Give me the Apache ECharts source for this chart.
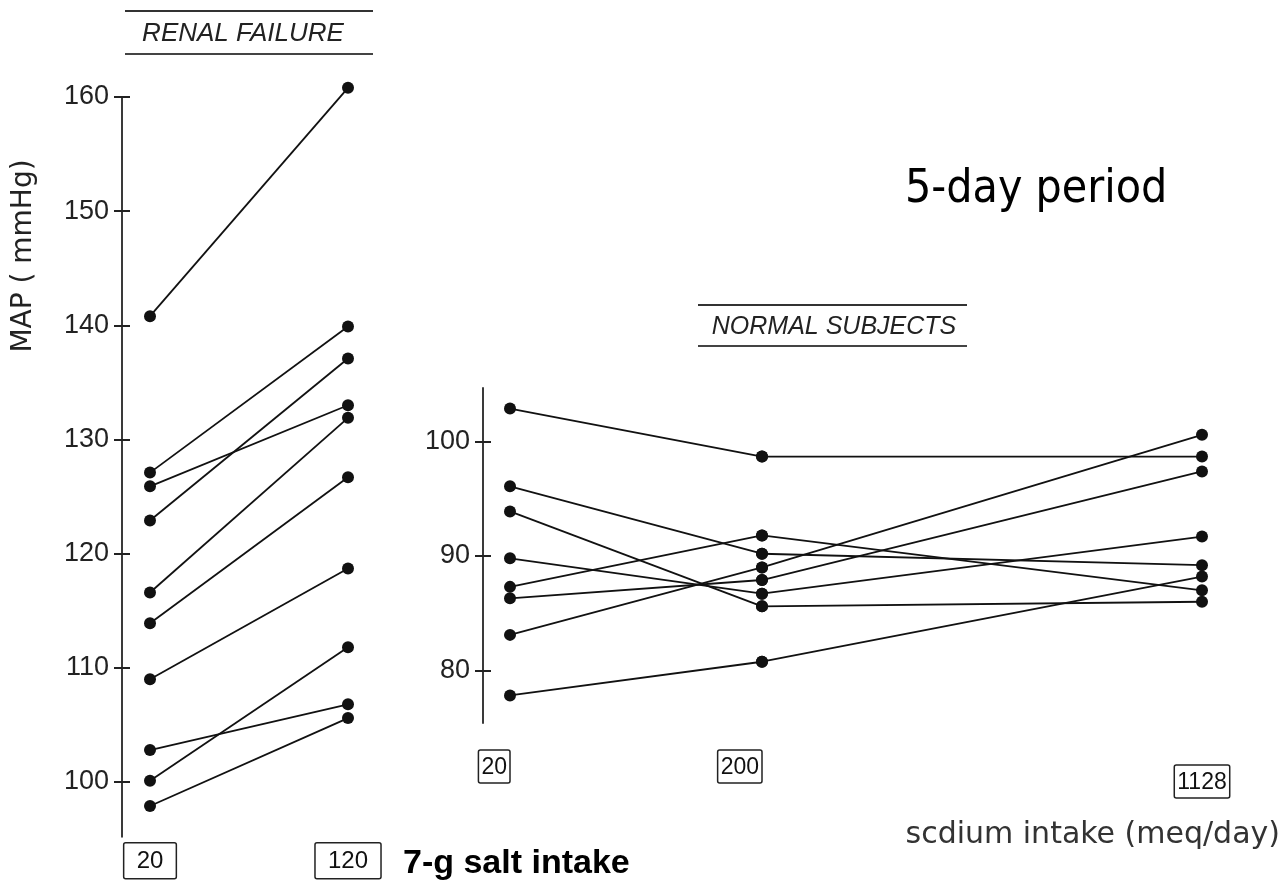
<!DOCTYPE html>
<html>
<head>
<meta charset="utf-8">
<script src="https://cdn.jsdelivr.net/npm/echarts@6/dist/echarts.min.js"></script>
<style>
html,body{margin:0;padding:0;background:#fff;}
#chart{width:1284px;height:887px;}
</style>
</head>
<body>
<div id="chart"></div>
<script>
// ---- data ----
const renalCats = ['20', '120'];
const renalLow  = [140.8, 127.1, 125.9, 122.9, 116.6, 113.9, 109.0, 102.8, 100.1, 97.9];
const renalHigh = [160.8, 139.9, 133.0, 137.1, 131.9, 126.7, 118.7, 106.8, 111.8, 105.6];
const renalTicks = [100, 110, 120, 130, 140, 150, 160];

const normalCats = ['20', '200', '1128'];
const normal20   = [102.9, 96.1, 93.9, 89.8, 87.3, 86.3, 83.1, 77.8];
const normal200  = [98.7, 90.2, 85.6, 86.7, 91.8, 87.9, 89.0, 80.75];
const normal1128 = [98.7, 89.2, 86.0, 91.7, 87.0, 97.4, 100.6, 88.2];
const normalTicks = [80, 90, 100];

const titleRenal = 'RENAL FAILURE';
const titleNormal = 'NORMAL SUBJECTS';
const yName = 'MAP ( mmHg)';
const xName = 'scdium intake (meq/day)';
const noteTop = '5-day period';
const noteBottom = '7-g salt intake';

// ---- chart ----
const chart = echarts.init(document.getElementById('chart'), null, {renderer: 'canvas'});
const INK = '#111';
const AXIS = '#3a3a3a';
const labelFont = 'Liberation Sans';

function mainY(gridIndex, min, max, ticks, offset) {
  return {
    type: 'value', gridIndex, min, max, offset, position: 'left',
    splitLine: {show: false},
    axisLine: {show: true, lineStyle: {color: AXIS, width: 2}},
    axisTick: {show: true, customValues: ticks, length: 8, lineStyle: {color: '#222', width: 2}},
    axisLabel: {show: true, customValues: ticks, margin: 13, fontFamily: labelFont, fontSize: 27, color: '#222'}
  };
}
function innerY(gridIndex, min, max, ticks, offset) {
  return {
    type: 'value', gridIndex, min, max, offset, position: 'left',
    splitLine: {show: false},
    axisLine: {show: false},
    axisTick: {show: true, inside: true, customValues: ticks, length: 8, lineStyle: {color: '#222', width: 2}},
    axisLabel: {show: false}
  };
}
function boxLabel(fontSize, margin, pad, align) {
  return {
    show: true, margin, fontFamily: labelFont, fontSize, color: INK, align,
    borderColor: '#222', borderWidth: 1.5, borderRadius: 2, padding: pad
  };
}

const series = [];
const lineCommon = {
  type: 'line', symbol: 'circle', symbolSize: 12, clip: false, silent: true,
  lineStyle: {color: INK, width: 1.8}, itemStyle: {color: INK}
};
renalLow.forEach((v, i) => {
  series.push(Object.assign({}, lineCommon, {xAxisIndex: 0, yAxisIndex: 0, data: [v, renalHigh[i]]}));
});
normal20.forEach((v, i) => {
  series.push(Object.assign({}, lineCommon, {xAxisIndex: 1, yAxisIndex: 2, data: [v, normal200[i]]}));
  series.push(Object.assign({}, lineCommon, {xAxisIndex: 2, yAxisIndex: 4, data: [normal200[i], normal1128[i]]}));
});

const option = {
  animation: false,
  backgroundColor: '#fff',
  grid: [
    {left: 150, width: 198, top: 97, height: 739.8},
    {left: 510, width: 252, top: 388, height: 335},
    {left: 762, width: 440, top: 388, height: 335}
  ],
  xAxis: [
    {type: 'category', gridIndex: 0, data: renalCats, boundaryGap: false,
     axisLine: {show: false}, axisTick: {show: false},
     axisLabel: boxLabel(24, 6, [7, 13, 5, 13], 'center')},
    {type: 'category', gridIndex: 1, data: normalCats.slice(0, 2), boundaryGap: false,
     axisLine: {show: false}, axisTick: {show: false},
     axisLabel: boxLabel(23, 27, [6, 3, 4, 3], 'right')},
    {type: 'category', gridIndex: 2, data: normalCats.slice(1, 3), boundaryGap: false,
     axisLine: {show: false}, axisTick: {show: false},
     axisLabel: Object.assign(boxLabel(23, 42, [6, 3, 4, 3], 'center'), {interval: (idx) => idx === 1})}
  ],
  yAxis: [
    mainY(0, 95.2, 160, renalTicks, 28),
    innerY(0, 95.2, 160, renalTicks, 28),
    mainY(1, 75.39, 104.7, normalTicks, 27),
    innerY(1, 75.39, 104.7, normalTicks, 27),
    {type: 'value', gridIndex: 2, min: 75.39, max: 104.7, show: false}
  ],
  series,
  graphic: [
    {type: 'line', shape: {x1: 125, y1: 11, x2: 373, y2: 11}, style: {stroke: '#333', lineWidth: 2}},
    {type: 'line', shape: {x1: 125, y1: 54, x2: 373, y2: 54}, style: {stroke: '#444', lineWidth: 2}},
    {type: 'text', x: 243, y: 34, style: {text: titleRenal, font: 'italic 26px "Liberation Sans"', fill: '#222',
      textAlign: 'center', textVerticalAlign: 'middle', align: 'center', verticalAlign: 'middle'}},
    {type: 'line', shape: {x1: 698, y1: 305, x2: 967, y2: 305}, style: {stroke: '#333', lineWidth: 2}},
    {type: 'line', shape: {x1: 698, y1: 346, x2: 967, y2: 346}, style: {stroke: '#444', lineWidth: 2}},
    {type: 'text', x: 834, y: 327, style: {text: titleNormal, font: 'italic 25px "Liberation Sans"', fill: '#222',
      textAlign: 'center', textVerticalAlign: 'middle', align: 'center', verticalAlign: 'middle'}},
    {type: 'text', x: 24, y: 256, rotation: Math.PI / 2, style: {text: yName, font: '28px "DejaVu Sans"', fill: '#222',
      textAlign: 'center', textVerticalAlign: 'middle', align: 'center', verticalAlign: 'middle'}},
    {type: 'text', x: 1280, y: 835, style: {text: xName, font: '30px "DejaVu Sans"', fill: '#333',
      textAlign: 'right', textVerticalAlign: 'middle', align: 'right', verticalAlign: 'middle'}},
    {type: 'text', x: 905, y: 190, style: {text: noteTop, font: '46px "DejaVu Sans Condensed", "DejaVu Sans"', fill: '#000',
      textAlign: 'left', textVerticalAlign: 'middle', align: 'left', verticalAlign: 'middle'}},
    {type: 'text', x: 403, y: 864, style: {text: noteBottom, font: 'bold 34px "Liberation Sans"', fill: '#000',
      textAlign: 'left', textVerticalAlign: 'middle', align: 'left', verticalAlign: 'middle'}}
  ]
};
chart.setOption(option);
</script>
</body>
</html>
